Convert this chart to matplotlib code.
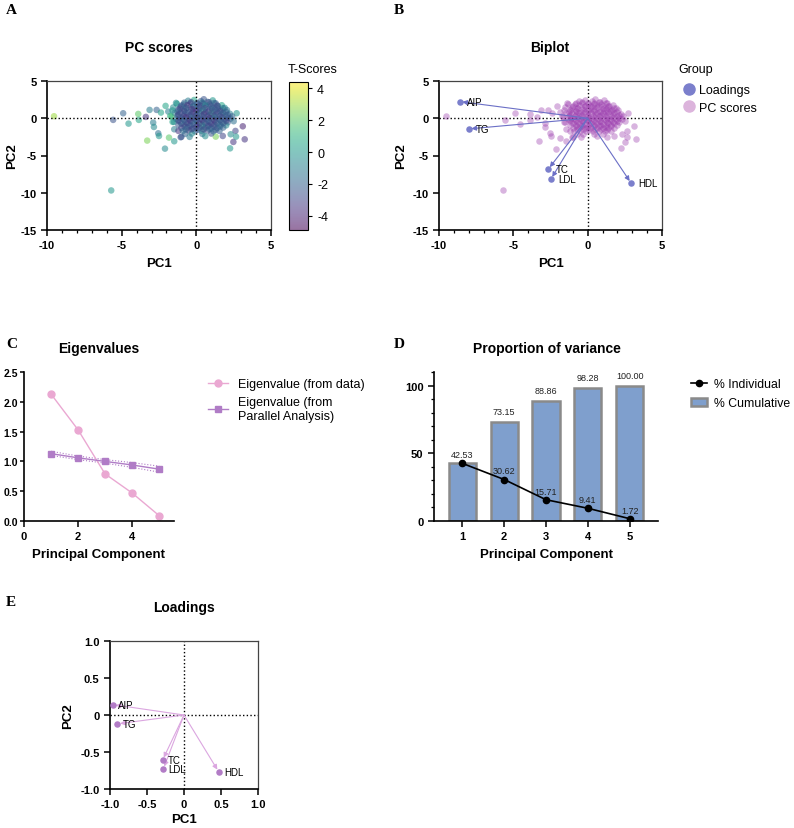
import numpy as np
import matplotlib
matplotlib.use("Agg")
import matplotlib.pyplot as plt
from matplotlib.lines import Line2D
from matplotlib.patches import Patch
from matplotlib.ticker import MultipleLocator

plt.rcParams['font.family'] = ['Liberation Sans', 'DejaVu Sans']
plt.rcParams['axes.unicode_minus'] = False

# ---- data ----
# PC scores (PC1, PC2, T-score)
pc1 = [-9.53, -5.57, -4.90, -4.54, -3.89, -3.85, -3.38, -3.29, -3.13, -2.89, -2.84, -2.66,
       -2.55, -2.50, -2.37, -2.10, -2.06, -1.88, -1.83, -1.48, -1.36, -1.48, -1.66, -1.59,
       -5.70, 2.26, 2.48, 2.62, 3.11, 3.24, 2.66, 2.70, 2.30, 1.77, 1.30, -1.20, -1.00,
       -0.55, -0.15, 0.30, 0.75, 1.10, 0.50,
       -1.30, -0.85, -0.40, 0.05, 0.45, 0.90, 1.30, 1.70,
       -1.55, -1.05, -0.65, -0.20, 0.20, 0.65, 1.05, 1.45, 1.90,
       -1.60, -1.20, -0.80, -0.35, 0.05, 0.45, 0.85, 1.25, 1.65, 2.05,
       -1.45, -1.05, -0.60, -0.20, 0.20, 0.60, 1.00, 1.40, 1.80, 2.25,
       -1.75, -1.25, -0.85, -0.45, -0.05, 0.35, 0.75, 1.15, 1.55, 1.95, 2.40,
       -1.35, -0.95, -0.50, -0.10, 0.30, 0.70, 1.10, 1.50, 1.90, 2.30,
       -1.50, -1.10, -0.70, -0.30, 0.10, 0.50, 0.90, 1.30, 1.70, 2.10, 2.50,
       -1.20, -0.80, -0.40, 0.00, 0.40, 0.80, 1.20, 1.60, 2.00,
       -1.00, -0.60, -0.20, 0.20, 0.60, 1.00, 1.40, 1.80,
       -0.90, -0.50, -0.10, 0.35, 0.75, 1.15, 1.55,
       -0.75, -0.30, 0.40, 1.00,
       -1.05, -0.45, 0.60,
       # dense core
       -0.80, -0.35, 0.05, 0.40, 0.85, 1.20,
       -1.00, -0.60, -0.20, 0.25, 0.60, 1.00, 1.40,
       -1.10, -0.70, -0.25, 0.20, 0.60, 1.05, 1.45, 1.80,
       -1.25, -0.80, -0.40, 0.00, 0.40, 0.80, 1.20, 1.60, 2.00,
       -1.20, -0.80, -0.35, 0.05, 0.50, 0.90, 1.30, 1.70, 2.10,
       -1.10, -0.70, -0.30, 0.10, 0.50, 0.90, 1.30, 1.70, 2.10,
       -1.20, -0.80, -0.40, 0.00, 0.40, 0.80, 1.20, 1.60, 2.00,
       -1.00, -0.60, -0.20, 0.20, 0.60, 1.00, 1.40, 1.80,
       -0.80, -0.40, 0.00, 0.40, 0.80, 1.20, 1.60,
       -0.70, -0.30, 0.10, 0.50, 0.90, 1.30]
pc2 = [0.27, -0.22, 0.67, -0.72, 0.58, -0.22, 0.18, -3.00, 1.12, -0.58, -1.17, 1.12,
       -2.02, -2.38, 0.76, -4.08, 1.66, 0.90, -2.60, -3.09, 2.06, -1.48, 0.22, -0.49,
       -9.69, -4.04, -3.18, -1.70, -1.08, -2.83, -2.47, 0.67, -2.15, -2.38, -2.47, -1.70, -2.50,
       2.35, 2.45, 2.30, 2.20, 2.40, 2.55,
       1.95, 1.85, 2.00, 1.90, 1.95, 1.85, 2.00, 1.75,
       1.45, 1.55, 1.40, 1.60, 1.45, 1.55, 1.40, 1.60, 1.40,
       1.05, 1.15, 1.00, 1.20, 1.05, 1.15, 1.00, 1.20, 1.05, 1.10,
       0.70, 0.75, 0.65, 0.80, 0.70, 0.75, 0.65, 0.80, 0.70, 0.60,
       0.30, 0.35, 0.25, 0.40, 0.30, 0.35, 0.25, 0.40, 0.30, 0.35, 0.25,
       -0.10, -0.05, -0.15, -0.05, -0.10, -0.15, -0.05, -0.10, -0.15, -0.05,
       -0.50, -0.45, -0.55, -0.40, -0.50, -0.45, -0.55, -0.45, -0.50, -0.55, -0.40,
       -0.90, -0.85, -0.95, -0.85, -0.90, -0.95, -0.85, -0.90, -0.95,
       -1.30, -1.25, -1.35, -1.30, -1.25, -1.35, -1.30, -1.25,
       -1.70, -1.65, -1.75, -1.70, -1.65, -1.75, -1.70,
       -2.10, -2.05, -2.10, -2.05,
       -2.55, -2.50, -2.40,
       2.10, 2.15, 2.05, 2.10, 2.15, 2.05,
       1.70, 1.75, 1.65, 1.70, 1.75, 1.65, 1.70,
       1.30, 1.35, 1.25, 1.30, 1.35, 1.25, 1.30, 1.35,
       0.90, 0.95, 0.85, 0.90, 0.95, 0.85, 0.90, 0.95, 0.85,
       0.50, 0.55, 0.45, 0.50, 0.55, 0.45, 0.50, 0.55, 0.45,
       0.10, 0.15, 0.05, 0.10, 0.15, 0.05, 0.10, 0.15, 0.05,
       -0.30, -0.25, -0.35, -0.30, -0.25, -0.35, -0.30, -0.25, -0.35,
       -0.70, -0.65, -0.75, -0.70, -0.65, -0.75, -0.70, -0.65,
       -1.10, -1.05, -1.15, -1.10, -1.05, -1.15, -1.10,
       -1.50, -1.45, -1.55, -1.50, -1.45, -1.55]
tscore = [3.0, -2.5, -2.0, 0.0, 2.0, 0.5, -3.5, 2.5, -1.0, -1.0, -0.5, -2.0,
          -1.5, 0.0, 0.5, -0.5, 0.5, -1.0, 2.0, 0.0, -0.5, -1.0, 2.0, 0.5,
          0.0, 0.0, -3.5, -3.0, -4.0, -3.5, 0.0, 0.0, -0.5, -3.0, 2.5, -3.5, -2.5,
          -1.0, 0.5, -2.0, -1.5, 0.0, -2.5,
          0.0, -1.5, -2.5, -2.0, -3.0, -1.0, -2.0, 0.5,
          -0.5, -2.0, -3.0, -1.0, -2.5, -2.0, -3.0, -1.5, -0.5,
          0.0, -2.5, -1.5, -3.0, -2.0, 0.5, -2.5, -2.0, -1.0, -1.5,
          -1.0, -3.0, -2.0, -3.5, -1.5, -2.5, 1.5, -2.0, -3.0, -1.0,
          1.0, -2.0, -3.5, -2.5, -4.0, -2.0, -3.0, -1.5, -2.5, -1.0, -2.0,
          -1.5, -2.5, -3.0, -3.5, -2.0, -3.0, 0.0, -2.5, -1.5, -2.0,
          -0.5, -2.0, -3.0, -2.5, -1.0, -3.5, -2.0, -3.0, -1.0, -2.5, -1.5,
          -2.5, -1.0, -3.0, -2.0, 0.5, -2.5, -3.5, -2.0, -0.5,
          -3.0, -2.0, -1.0, -3.0, -0.5, -2.5, -1.5, -2.0,
          -1.5, -3.5, -2.0, 0.0, -2.5, -1.0, -2.0,
          -2.0, -0.5, -1.5, -2.5,
          -2.5, -1.0, -0.5,
          -2.0, -3.0, -2.5, -1.5, -3.0, -2.0,
          -2.5, -3.5, -2.0, -3.0, -1.0, -2.5, -3.0,
          -3.0, -2.0, -3.5, -2.5, -3.0, -2.0, -2.5, -1.5,
          -2.0, -3.0, -2.5, -3.5, -2.0, -3.0, -2.5, -3.0, -2.0,
          -3.0, -2.5, -3.0, -2.0, -3.5, -2.5, -3.0, -2.0, -2.5,
          -2.5, -3.5, -2.0, -3.0, -2.5, -3.5, -2.0, -3.0, -2.5,
          -3.0, -2.0, -3.5, -2.5, -3.0, -2.0, -3.5, -2.5, -3.0,
          -2.5, -3.0, -2.0, -3.5, -2.5, -3.0, -2.0, -2.5,
          -3.0, -2.5, -3.5, -2.0, -3.0, -2.5, -2.0,
          -2.0, -3.0, -2.5, -3.0, -2.0, -2.5]

variables = ['AIP', 'TG', 'TC', 'LDL', 'HDL']
load_pc1 = [-0.96, -0.90, -0.29, -0.28, 0.47]
load_pc2 = [0.14, -0.12, -0.61, -0.73, -0.77]
bi_pc1 = [-8.62, -8.01, -2.66, -2.48, 2.93]
bi_pc2 = [2.24, -1.43, -6.86, -8.20, -8.74]

components = [1, 2, 3, 4, 5]
eig_data = [2.13, 1.53, 0.79, 0.47, 0.09]
eig_parallel = [1.13, 1.06, 1.00, 0.94, 0.87]
eig_par_upper = [1.17, 1.09, 1.03, 0.98, 0.92]
eig_par_lower = [1.10, 1.03, 0.97, 0.90, 0.82]

pct_individual = [42.53, 30.62, 15.71, 9.41, 1.72]
pct_cumulative = [42.53, 73.15, 88.86, 98.28, 100.00]

W, H = 794, 829
fig = plt.figure(figsize=(W / 100, H / 100), dpi=100)


def box(l, t, r, b):
    return [l / W, (H - b) / H, (r - l) / W, (b - t) / H]


def ftext(x, y, s, **kw):
    fig.text(x / W, 1 - y / H, s, **kw)


def style(ax, full=True, lw=1.2):
    for side in ['left', 'bottom']:
        ax.spines[side].set_linewidth(lw)
    if full:
        for side in ['top', 'right']:
            ax.spines[side].set_linewidth(0.9)
            ax.spines[side].set_color('#444444')
    else:
        ax.spines['top'].set_visible(False)
        ax.spines['right'].set_visible(False)
    ax.tick_params(which='major', length=4, width=1.1, labelsize=8)
    ax.tick_params(which='minor', length=2.5, width=0.9)
    for lab in ax.get_xticklabels() + ax.get_yticklabels():
        lab.set_fontweight('bold')


title_kw = dict(ha='center', va='center', fontsize=10, fontweight='bold')
lab_kw = dict(ha='center', va='center', fontsize=9.5, fontweight='bold')
letter_kw = dict(ha='left', va='center', fontsize=11, fontweight='bold',
                 family=['Liberation Serif', 'DejaVu Serif'])

# ---- A: PC scores ----
axA = fig.add_axes(box(47, 82, 271, 231))
sc = axA.scatter(pc1, pc2, c=tscore, cmap='viridis', vmin=-4.9, vmax=4.4,
                 s=22, alpha=0.55, linewidths=0)
axA.axhline(0, color='black', ls=':', lw=1)
axA.axvline(0, color='black', ls=':', lw=1)
axA.set_xlim(-10, 5)
axA.set_ylim(-15, 5)
axA.set_xticks([-10, -5, 0, 5])
axA.xaxis.set_minor_locator(MultipleLocator(1))
axA.set_yticks([5, 0, -5, -10, -15])
style(axA)
cax = fig.add_axes(box(289, 83, 308, 231))
cb = fig.colorbar(sc, cax=cax, ticks=[4, 2, 0, -2, -4])
cb.solids.set_alpha(0.55)
cb.outline.set_linewidth(0.8)
cax.tick_params(labelsize=9, length=3)
ftext(288, 70, 'T-Scores', ha='left', va='center', fontsize=9)
ftext(159, 48, 'PC scores', **title_kw)
ftext(159, 264, 'PC1', **lab_kw)
ftext(12, 156, 'PC2', rotation=90, **lab_kw)
ftext(6, 11, 'A', **letter_kw)

# ---- B: Biplot ----
axB = fig.add_axes(box(439, 82, 662, 231))
axB.scatter(pc1, pc2, color='#9a3aad', s=22, alpha=0.38, linewidths=0, zorder=2)
axB.axhline(0, color='black', ls=':', lw=1, zorder=1)
axB.axvline(0, color='black', ls=':', lw=1, zorder=1)
for name, x, y in zip(variables, bi_pc1, bi_pc2):
    axB.annotate('', xy=(x, y), xytext=(0, 0),
                 arrowprops=dict(arrowstyle='-|>', color='#6b6fc6', lw=0.8,
                                 mutation_scale=7, shrinkA=0, shrinkB=2), zorder=3)
    axB.text(x + 0.5, y, name, fontsize=7, va='center', ha='left', zorder=4)
axB.scatter(bi_pc1, bi_pc2, color='#7b7fcc', s=22, zorder=4, linewidths=0)
axB.set_xlim(-10, 5)
axB.set_ylim(-15, 5)
axB.set_xticks([-10, -5, 0, 5])
axB.xaxis.set_minor_locator(MultipleLocator(1))
axB.set_yticks([5, 0, -5, -10, -15])
style(axB)
ftext(550, 48, 'Biplot', **title_kw)
ftext(551, 264, 'PC1', **lab_kw)
ftext(401, 156, 'PC2', rotation=90, **lab_kw)
ftext(394, 11, 'B', **letter_kw)
ftext(678, 70, 'Group', ha='left', va='center', fontsize=9)
hB = [Line2D([], [], ls='none', marker='o', ms=8, color='#7b7fcc'),
      Line2D([], [], ls='none', marker='o', ms=8, color='#dcb4dc')]
fig.legend(hB, ['Loadings', 'PC scores'], loc='upper left',
           bbox_to_anchor=(678 / W, 1 - 80 / H), frameon=False, fontsize=9,
           handletextpad=0.3, labelspacing=0.45, borderaxespad=0, handlelength=1.0)

# ---- C: Eigenvalues ----
axC = fig.add_axes(box(24, 373, 174, 522))
axC.plot(components, eig_par_upper, color='#b07cc6', ls=':', lw=0.8)
axC.plot(components, eig_par_lower, color='#b07cc6', ls=':', lw=0.8)
axC.plot(components, eig_data, color='#eaa8d2', marker='o', ms=5, lw=1)
axC.plot(components, eig_parallel, color='#b07cc6', marker='s', ms=5, lw=1)
axC.set_xlim(0, 5.55)
axC.set_ylim(0, 2.5)
axC.set_xticks([0, 2, 4])
axC.set_yticks([0, 0.5, 1.0, 1.5, 2.0, 2.5])
axC.set_yticklabels(['0.0', '0.5', '1.0', '1.5', '2.0', '2.5'])
style(axC, full=False)
axC.tick_params(axis='y', length=3, pad=1.5, labelsize=7.5)
ftext(99, 349, 'Eigenvalues', **title_kw)
ftext(99, 555, 'Principal Component', **lab_kw)
ftext(6, 345, 'C', **letter_kw)
hC = [Line2D([], [], color='#eaa8d2', marker='o', ms=5, lw=1),
      Line2D([], [], color='#b07cc6', marker='s', ms=5, lw=1)]
fig.legend(hC, ['Eigenvalue (from data)', 'Eigenvalue (from\nParallel Analysis)'],
           loc='upper left', bbox_to_anchor=(203 / W, 1 - 374 / H), frameon=False,
           fontsize=9, handlelength=1.6, handletextpad=0.8, labelspacing=0.5,
           borderaxespad=0)

# ---- D: Proportion of variance ----
axD = fig.add_axes(box(434, 373, 658, 522))
axD.bar(components, pct_cumulative, width=0.65, color='#7f9fcd',
        edgecolor='#8a8a8a', linewidth=1.8, zorder=2)
axD.plot(components, pct_individual, color='black', marker='o', ms=4.5, lw=1.2, zorder=3)
for x, v in zip(components[1:], pct_cumulative[1:]):
    axD.text(x, v + 4, '%.2f' % v, ha='center', va='bottom', fontsize=6.5, color='#222222')
for x, v in zip(components, pct_individual):
    axD.text(x, v + 3, '%.2f' % v, ha='center', va='bottom', fontsize=6.5, color='#222222',
             zorder=4)
axD.set_xlim(0.32, 5.68)
axD.set_ylim(0, 110)
axD.set_xticks(components)
axD.set_yticks([0, 50, 100])
axD.yaxis.set_minor_locator(MultipleLocator(10))
style(axD, full=False)
axD.tick_params(axis='x', which='minor', bottom=False)
ftext(547, 349, 'Proportion of variance', **title_kw)
ftext(547, 555, 'Principal Component', **lab_kw)
ftext(394, 345, 'D', **letter_kw)
hD = [Line2D([], [], color='black', marker='o', ms=4.5, lw=1.2),
      Patch(facecolor='#7f9fcd', edgecolor='#8a8a8a', linewidth=1.8)]
fig.legend(hD, ['% Individual', '% Cumulative'], loc='upper left',
           bbox_to_anchor=(686 / W, 1 - 374 / H), frameon=False, fontsize=8.8,
           handlelength=1.3, handletextpad=0.6, labelspacing=0.6, borderaxespad=0)

# ---- E: Loadings ----
axE = fig.add_axes(box(110, 642, 258, 790))
axE.axhline(0, color='black', ls=':', lw=1, zorder=1)
axE.axvline(0, color='black', ls=':', lw=1, zorder=1)
for name, x, y in zip(variables, load_pc1, load_pc2):
    axE.annotate('', xy=(x, y), xytext=(0, 0),
                 arrowprops=dict(arrowstyle='-|>', color='#dba6e0', lw=0.8,
                                 mutation_scale=7, shrinkA=0, shrinkB=2), zorder=2)
    axE.text(x + 0.07, y, name, fontsize=7, va='center', ha='left', zorder=4)
axE.scatter(load_pc1, load_pc2, color='#b27cc6', s=22, zorder=3, linewidths=0)
axE.set_xlim(-1, 1)
axE.set_ylim(-1, 1)
ticksE = [-1.0, -0.5, 0, 0.5, 1.0]
axE.set_xticks(ticksE)
axE.set_xticklabels(['-1.0', '-0.5', '0', '0.5', '1.0'])
axE.set_yticks(ticksE)
axE.set_yticklabels(['-1.0', '-0.5', '0', '0.5', '1.0'])
style(axE)
ftext(184, 608, 'Loadings', **title_kw)
ftext(184, 820, 'PC1', **lab_kw)
ftext(68, 716, 'PC2', rotation=90, **lab_kw)
ftext(6, 602, 'E', **letter_kw)

fig.savefig('out.png', dpi=100)
